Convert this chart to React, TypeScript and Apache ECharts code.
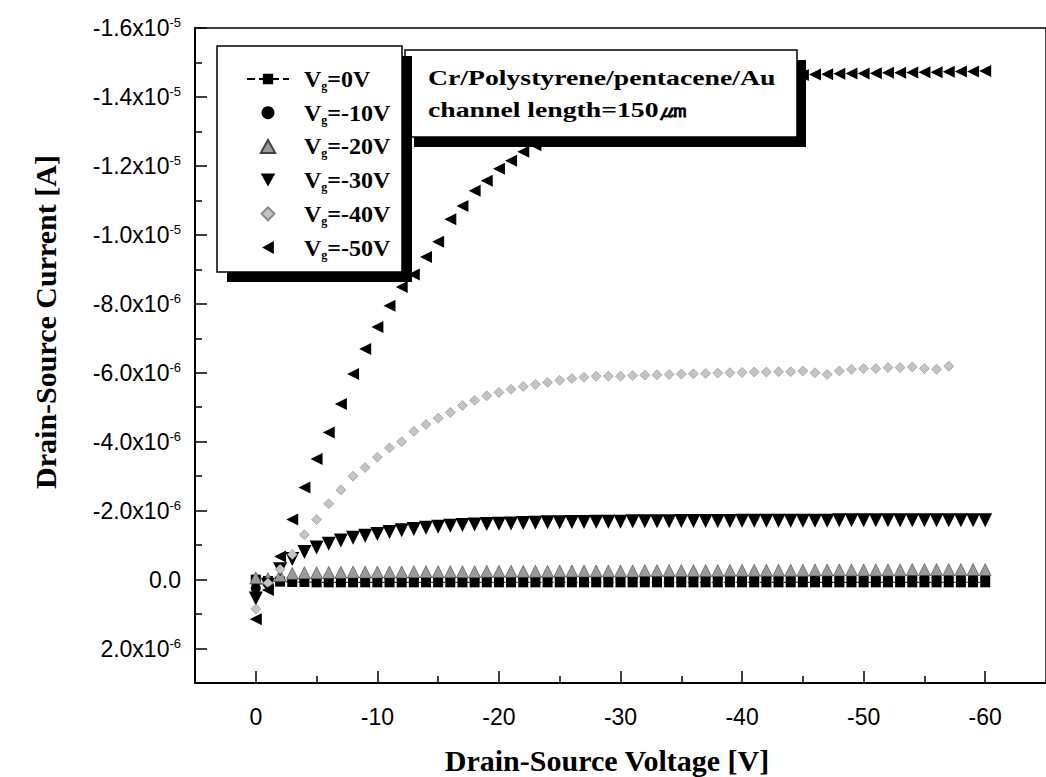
import React, { useEffect, useRef } from "react";
import * as echarts from "echarts";

// Drain-source voltage steps (V)
const V_DS = [
  0, -1, -2, -3, -4, -5, -6, -7, -8, -9, -10, -11, -12, -13, -14, -15, -16, -17, -18, -19, -20,
  -21, -22, -23, -24, -25, -26, -27, -28, -29, -30, -31, -32, -33, -34, -35, -36, -37, -38, -39, -40,
  -41, -42, -43, -44, -45, -46, -47, -48, -49, -50, -51, -52, -53, -54, -55, -56, -57, -58, -59, -60,
];

// Drain-source current in µA, one array per gate voltage
const I_VG0 = [
  0.0, 0.04, 0.06, 0.07, 0.07, 0.08, 0.08, 0.08, 0.08, 0.08, 0.08, 0.08, 0.08, 0.08, 0.08, 0.08, 0.08,
  0.08, 0.08, 0.08, 0.08, 0.08, 0.08, 0.08, 0.08, 0.08, 0.08, 0.08, 0.08, 0.08, 0.08, 0.08, 0.08, 0.08,
  0.08, 0.08, 0.08, 0.08, 0.08, 0.08, 0.08, 0.08, 0.08, 0.08, 0.08, 0.08, 0.08, 0.08, 0.08, 0.08, 0.08,
  0.08, 0.08, 0.08, 0.08, 0.08, 0.08, 0.08, 0.08, 0.08, 0.08,
];
const I_VG10 = [
  0.25, 0.12, 0.02, -0.02, -0.03, -0.04, -0.05, -0.05, -0.05, -0.05, -0.05, -0.05, -0.05, -0.05, -0.05,
  -0.05, -0.05, -0.05, -0.05, -0.05, -0.05, -0.05, -0.05, -0.05, -0.05, -0.05, -0.05, -0.05, -0.05, -0.05,
  -0.05, -0.05, -0.05, -0.05, -0.05, -0.05, -0.05, -0.06, -0.06, -0.06, -0.06, -0.06, -0.06, -0.06, -0.06,
  -0.06, -0.06, -0.06, -0.06, -0.06, -0.06, -0.06, -0.06, -0.06, -0.06, -0.06, -0.06, -0.06, -0.06, -0.06,
  -0.06,
];
const I_VG20 = [
  -0.05, -0.03, -0.12, -0.18, -0.2, -0.2, -0.21, -0.21, -0.22, -0.22, -0.22, -0.22, -0.22, -0.23, -0.23,
  -0.23, -0.23, -0.23, -0.23, -0.24, -0.24, -0.24, -0.24, -0.24, -0.24, -0.25, -0.25, -0.25, -0.25, -0.25,
  -0.25, -0.25, -0.26, -0.26, -0.26, -0.26, -0.26, -0.26, -0.26, -0.27, -0.27, -0.27, -0.27, -0.27, -0.27,
  -0.27, -0.28, -0.28, -0.28, -0.28, -0.28, -0.28, -0.28, -0.28, -0.29, -0.29, -0.29, -0.29, -0.29, -0.29,
  -0.29,
];
const I_VG30 = [
  0.55, 0.15, -0.3, -0.6, -0.8, -0.93, -1.04, -1.13, -1.21, -1.27, -1.32, -1.38, -1.43, -1.47, -1.5, -1.53,
  -1.56, -1.58, -1.6, -1.61, -1.62, -1.63, -1.64, -1.65, -1.66, -1.66, -1.67, -1.67, -1.68, -1.68, -1.68,
  -1.69, -1.69, -1.69, -1.69, -1.7, -1.7, -1.7, -1.7, -1.7, -1.71, -1.71, -1.71, -1.71, -1.71, -1.71,
  -1.71, -1.71, -1.72, -1.72, -1.72, -1.72, -1.72, -1.72, -1.72, -1.72, -1.72, -1.72, -1.72, -1.72, -1.72,
];
const I_VG40 = [
  0.85, 0.1, -0.3, -0.73, -1.3, -1.74, -2.2, -2.6, -3.0, -3.25, -3.55, -3.82, -4.0, -4.3, -4.5, -4.68,
  -4.85, -5.05, -5.2, -5.33, -5.43, -5.52, -5.6, -5.66, -5.72, -5.78, -5.83, -5.87, -5.9, -5.9, -5.9,
  -5.92, -5.93, -5.94, -5.95, -5.96, -5.97, -5.98, -5.99, -6.0, -6.01, -6.02, -6.02, -6.03, -6.03, -6.05,
  -6.0, -5.95, -6.05, -6.1, -6.12, -6.12, -6.15, -6.15, -6.17, -6.12, -6.1, -6.19,
];
const I_VG50 = [
  1.15, 0.3, -0.67, -1.74, -2.67, -3.5, -4.27, -5.09, -5.96, -6.69, -7.33, -7.94, -8.49, -8.85, -9.36,
  -9.8, -10.45, -10.84, -11.28, -11.57, -11.92, -12.15, -12.41, -12.6, -12.8, -13.0, -13.2, -13.38, -13.52,
  -13.65, -13.78, -13.9, -14.0, -14.1, -14.18, -14.25, -14.32, -14.38, -14.43, -14.48, -14.52, -14.55,
  -14.58, -14.6, -14.62, -14.64, -14.65, -14.66, -14.67, -14.68, -14.68, -14.69, -14.7, -14.7, -14.71,
  -14.72, -14.72, -14.73, -14.74, -14.74, -14.75,
];

const SERIES_NAMES = ["Vg=0V", "Vg=-10V", "Vg=-20V", "Vg=-30V", "Vg=-40V", "Vg=-50V"];

// Axis ticks and labels
const X_TICKS = [0, -10, -20, -30, -40, -50, -60];
const X_MINOR = [-5, -15, -25, -35, -45, -55];
const Y_TICKS = [-16e-6, -14e-6, -12e-6, -10e-6, -8e-6, -6e-6, -4e-6, -2e-6, 0, 2e-6];
const Y_MINOR = [-15e-6, -13e-6, -11e-6, -9e-6, -7e-6, -5e-6, -3e-6, -1e-6, 1e-6];
const Y_MANT = ["-1.6", "-1.4", "-1.2", "-1.0", "-8.0", "-6.0", "-4.0", "-2.0", "0.0", "2.0"];
const Y_EXP = ["-5", "-5", "-5", "-5", "-6", "-6", "-6", "-6", "", "-6"];

const SANS = "'Liberation Sans', Arial, sans-serif";
const SERIF = "'Liberation Serif', 'Times New Roman', serif";

const toPairs = (vals: number[]) => vals.map((v, i) => [V_DS[i], v * 1e-6]);

export default function App() {
  const ref = useRef<HTMLDivElement>(null);

  useEffect(() => {
    if (!ref.current) return;
    const chart = echarts.init(ref.current, undefined, { renderer: "svg" });

    const xBase = {
      type: "value",
      min: -65,
      max: 5,
      inverse: true,
      position: "bottom",
      gridIndex: 0,
      splitLine: { show: false },
    };
    const yBase = {
      type: "value",
      min: -16e-6,
      max: 3e-6,
      inverse: true,
      position: "left",
      gridIndex: 0,
      splitLine: { show: false },
    };

    const option: any = {
      animation: false,
      backgroundColor: "#fff",
      grid: {
        left: 195,
        top: 28,
        width: 858,
        height: 655,
        show: true,
        borderColor: "#000",
        borderWidth: 1.5,
        backgroundColor: "transparent",
      },
      xAxis: [
        {
          ...xBase,
          axisLine: { show: true, onZero: false, lineStyle: { color: "#000", width: 2 } },
          axisTick: { show: true, inside: true, length: 12, customValues: X_TICKS, lineStyle: { color: "#000", width: 1.5 } },
          axisLabel: {
            show: true,
            customValues: X_TICKS,
            margin: 22,
            fontSize: 23,
            fontFamily: SANS,
            color: "#000",
            formatter: (v: number) => String(v),
          },
        },
        {
          ...xBase,
          axisLine: { show: false, onZero: false },
          axisTick: { show: true, inside: true, length: 7, customValues: X_MINOR, lineStyle: { color: "#000", width: 1.5 } },
          axisLabel: { show: false },
        },
      ],
      yAxis: [
        {
          ...yBase,
          axisLine: { show: true, onZero: false, lineStyle: { color: "#000", width: 2 } },
          axisTick: { show: true, inside: true, length: 12, customValues: Y_TICKS, lineStyle: { color: "#000", width: 1.5 } },
          axisLabel: {
            show: true,
            customValues: Y_TICKS,
            margin: 14,
            color: "#000",
            formatter: (v: number) => {
              const i = Y_TICKS.findIndex((t) => Math.abs(t - v) < 1e-10);
              if (i < 0) return "";
              return Y_EXP[i] ? `{m|${Y_MANT[i]}x10}{e|${Y_EXP[i]}}` : `{m|${Y_MANT[i]}}`;
            },
            rich: {
              m: { fontSize: 23, fontFamily: SANS, color: "#000", lineHeight: 24 },
              e: { fontSize: 13, fontFamily: SANS, color: "#000", lineHeight: 13, verticalAlign: "top" },
            },
          },
        },
        {
          ...yBase,
          axisLine: { show: false, onZero: false },
          axisTick: { show: true, inside: true, length: 7, customValues: Y_MINOR, lineStyle: { color: "#000", width: 1.5 } },
          axisLabel: { show: false },
        },
      ],
      legend: {
        orient: "vertical",
        left: 241,
        top: 62,
        itemWidth: 42,
        itemHeight: 13,
        itemGap: 8.7,
        z: 20,
        selectedMode: false,
        data: [
          { name: SERIES_NAMES[0] },
          { name: SERIES_NAMES[1], icon: "circle" },
          { name: SERIES_NAMES[2], icon: "path://M5,0L10,9L0,9Z" },
          { name: SERIES_NAMES[3], icon: "path://M0,0L10,0L5,9Z" },
          { name: SERIES_NAMES[4], icon: "path://M5,0L10,5L5,10L0,5Z" },
          { name: SERIES_NAMES[5], icon: "path://M0,5L9,0L9,10Z" },
        ],
        formatter: (name: string) => `{p|}{v|V}{s|g}{v|${name.slice(2)}}`,
        textStyle: {
          rich: {
            p: { width: 10 },
            v: { fontSize: 24, fontWeight: "bold", fontFamily: SERIF, color: "#000", lineHeight: 26 },
            s: { fontSize: 12, fontWeight: "bold", fontFamily: SERIF, color: "#000", lineHeight: 12, verticalAlign: "bottom" },
          },
        },
      },
      series: [
        {
          name: SERIES_NAMES[0],
          type: "line",
          data: toPairs(I_VG0),
          symbol: "rect",
          symbolSize: 10,
          showAllSymbol: true,
          lineStyle: { type: "dashed", width: 1, color: "#000" },
          itemStyle: { color: "#000" },
          z: 2,
        },
        {
          name: SERIES_NAMES[1],
          type: "scatter",
          data: toPairs(I_VG10),
          symbol: "circle",
          symbolSize: 10,
          itemStyle: { color: "#000", opacity: 1 },
          z: 3,
        },
        {
          name: SERIES_NAMES[2],
          type: "scatter",
          data: toPairs(I_VG20),
          symbol: "triangle",
          symbolSize: 12,
          itemStyle: { color: "#9a9a9a", borderColor: "#444", borderWidth: 0.6, opacity: 1 },
          z: 4,
        },
        {
          name: SERIES_NAMES[3],
          type: "scatter",
          data: toPairs(I_VG30),
          symbol: "triangle",
          symbolRotate: 180,
          symbolSize: 14,
          itemStyle: { color: "#000", opacity: 1 },
          z: 5,
        },
        {
          name: SERIES_NAMES[4],
          type: "scatter",
          data: toPairs(I_VG40),
          symbol: "diamond",
          symbolSize: 10,
          itemStyle: { color: "#c4c4c4", borderColor: "#8a8a8a", borderWidth: 0.6, opacity: 1 },
          z: 6,
        },
        {
          name: SERIES_NAMES[5],
          type: "scatter",
          data: toPairs(I_VG50),
          symbol: "triangle",
          symbolRotate: 90,
          symbolSize: 12,
          itemStyle: { color: "#000", opacity: 1 },
          z: 7,
        },
      ],
      graphic: [
        { type: "rect", z: 10, shape: { x: 414, y: 60, width: 392, height: 87 }, style: { fill: "#000" } },
        { type: "rect", z: 11, shape: { x: 405, y: 50, width: 392, height: 87 }, style: { fill: "#fff", stroke: "#000", lineWidth: 1.5 } },
        {
          type: "text",
          z: 12,
          x: 428,
          y: 78,
          scaleX: 1.26,
          style: { text: "Cr/Polystyrene/pentacene/Au", fontSize: 22, fontWeight: "bold", fontFamily: SERIF, fill: "#000", align: "left", verticalAlign: "middle" },
        },
        {
          type: "text",
          z: 12,
          x: 428,
          y: 110,
          scaleX: 1.26,
          style: { text: "channel length=150㎛", fontSize: 22, fontWeight: "bold", fontFamily: SERIF, fill: "#000", align: "left", verticalAlign: "middle" },
        },
        { type: "rect", z: 13, shape: { x: 227, y: 56, width: 185, height: 226 }, style: { fill: "#000" } },
        { type: "rect", z: 14, shape: { x: 217, y: 46, width: 185, height: 226 }, style: { fill: "#fff", stroke: "#000", lineWidth: 1.5 } },
        {
          type: "text",
          x: 45,
          y: 322,
          rotation: Math.PI / 2,
          style: { text: "Drain-Source Current [A]", fontSize: 30, fontWeight: "bold", fontFamily: SERIF, fill: "#000", align: "center", verticalAlign: "middle" },
        },
        {
          type: "text",
          x: 607,
          y: 760,
          style: { text: "Drain-Source Voltage [V]", fontSize: 30, fontWeight: "bold", fontFamily: SERIF, fill: "#000", align: "center", verticalAlign: "middle" },
        },
      ],
    };

    chart.setOption(option);
    return () => chart.dispose();
  }, []);

  return (
    <div
      ref={ref}
      style={{ position: "absolute", left: 0, top: 0, width: 1046, height: 777, background: "#fff" }}
    />
  );
}
